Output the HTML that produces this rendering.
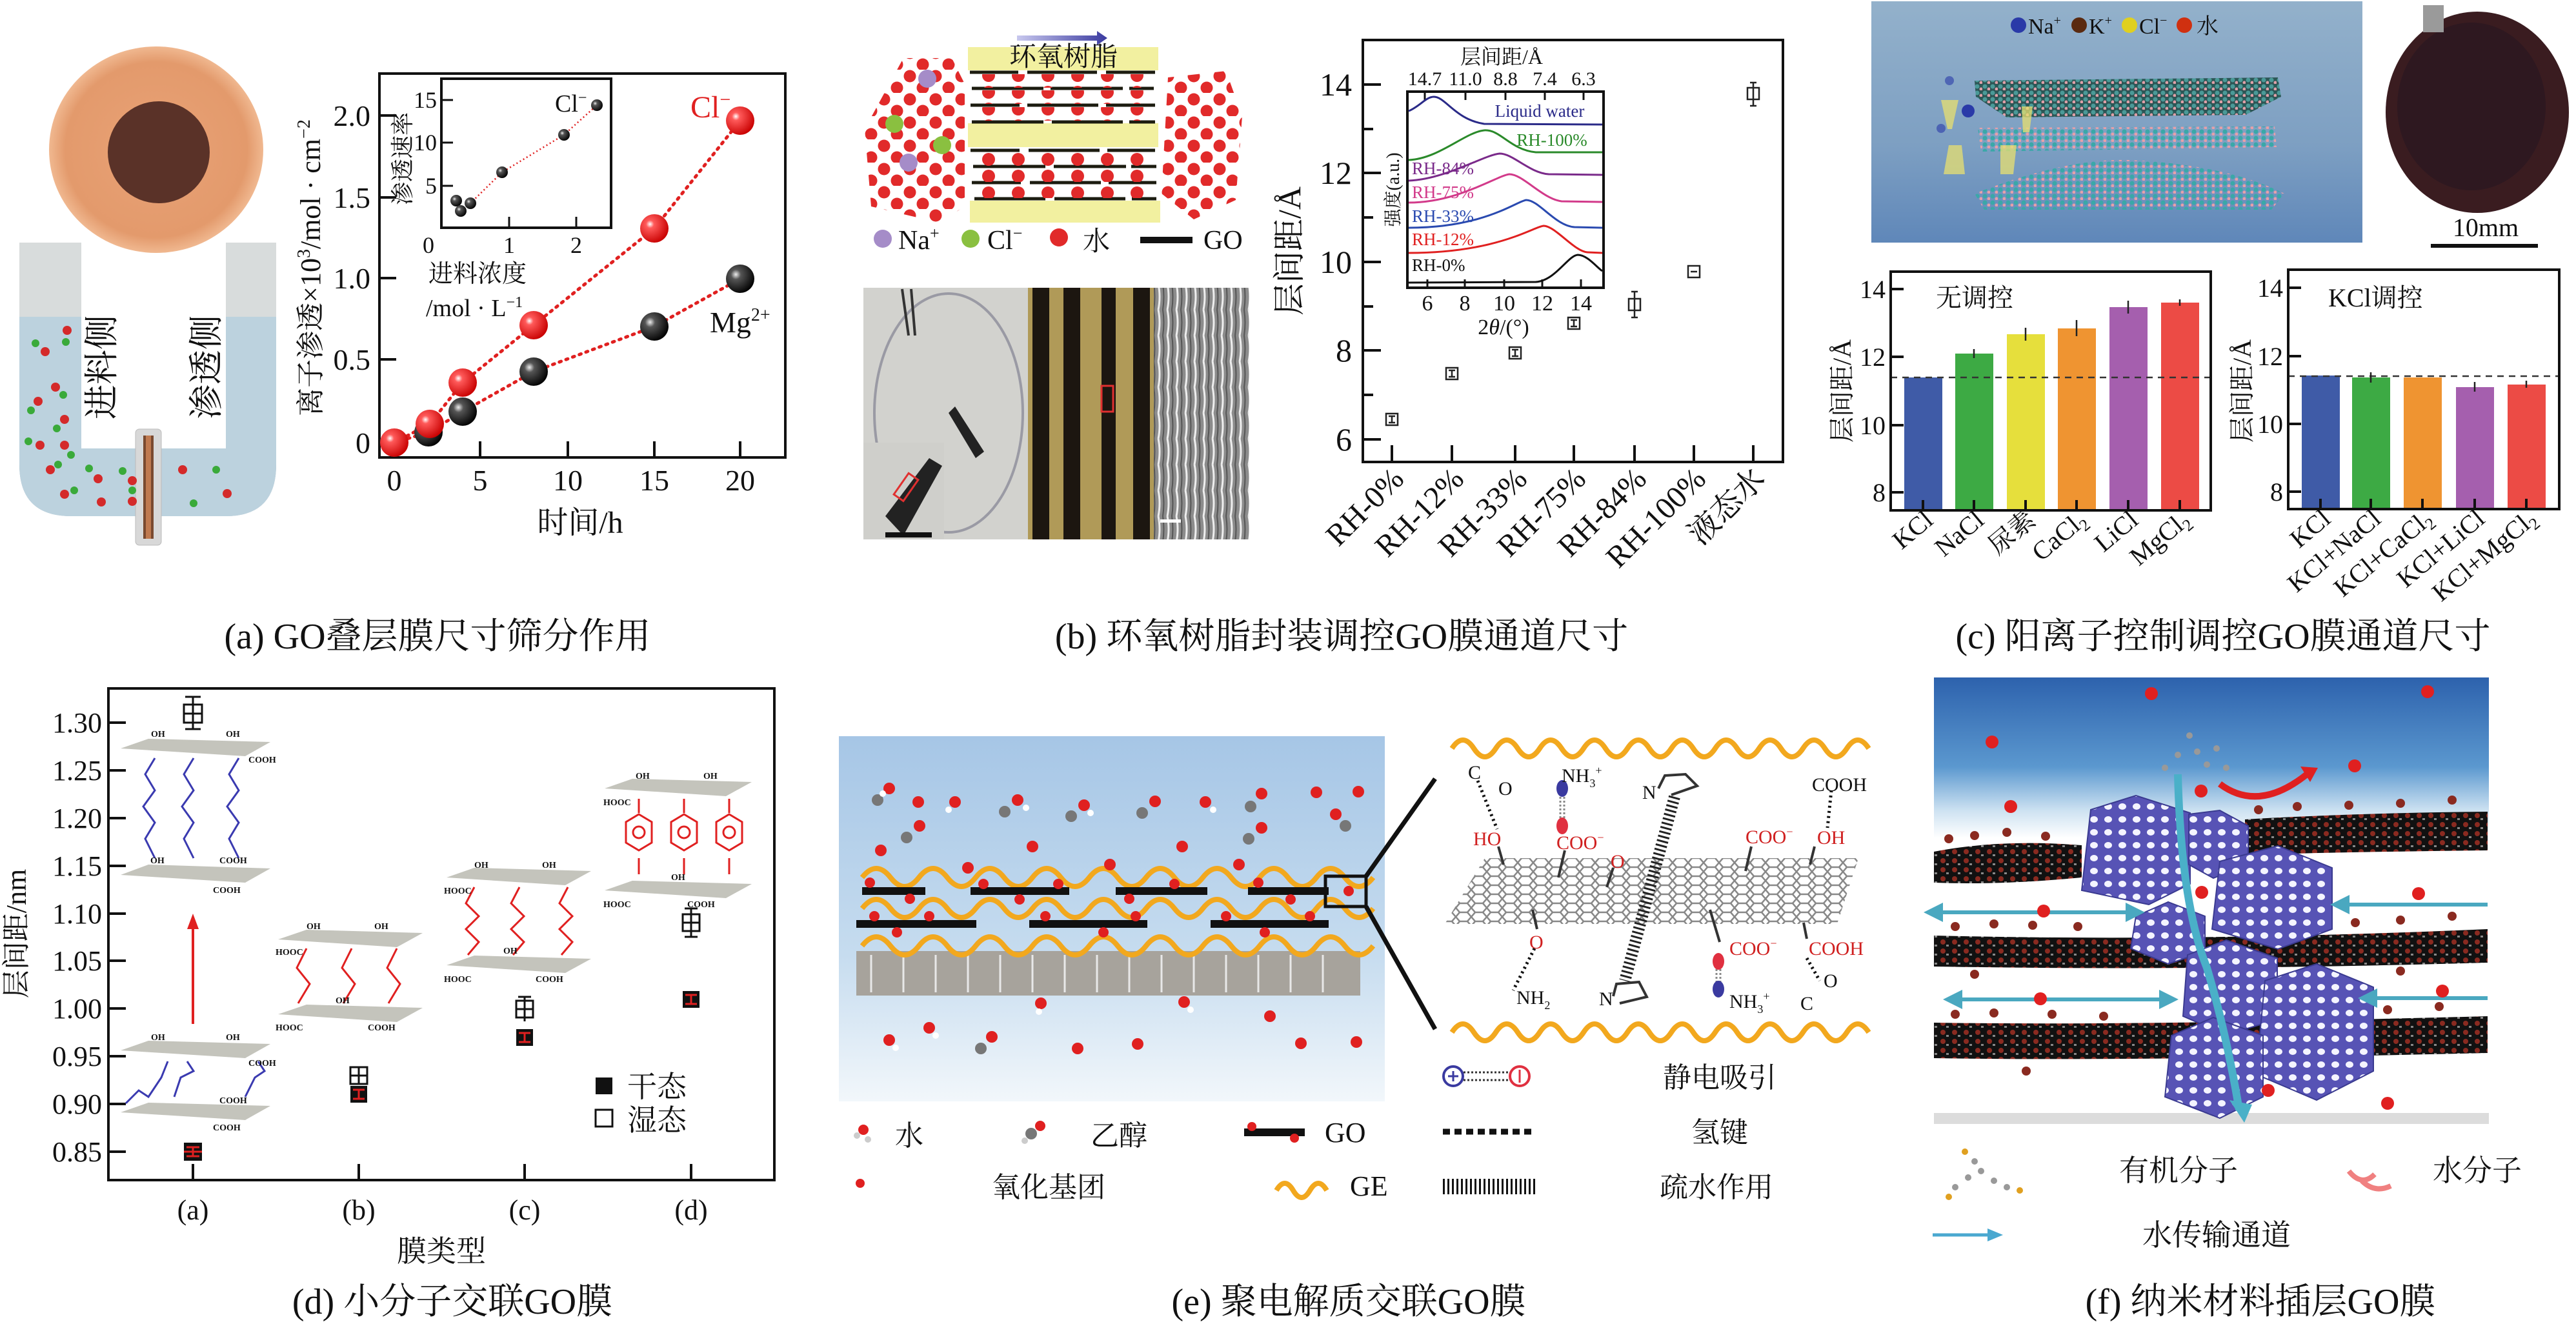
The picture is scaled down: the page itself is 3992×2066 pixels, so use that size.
<!DOCTYPE html>
<html><head><meta charset="utf-8">
<style>
html,body{margin:0;padding:0;background:#fff;}
svg{display:block;}
text{font-family:"Liberation Serif","Noto Serif CJK SC",serif;fill:#111;}
</style></head>
<body>
<svg xmlns="http://www.w3.org/2000/svg" width="3992" height="2066" viewBox="0 0 3992 2066">
<defs>
  <radialGradient id="rball" cx="0.35" cy="0.35" r="0.7"><stop offset="0" stop-color="#fff"/><stop offset="0.2" stop-color="#ff5a5a"/><stop offset="1" stop-color="#c80000"/></radialGradient>
  <radialGradient id="kball" cx="0.35" cy="0.35" r="0.7"><stop offset="0" stop-color="#eee"/><stop offset="0.25" stop-color="#555"/><stop offset="1" stop-color="#000"/></radialGradient>
  <radialGradient id="disc" cx="0.5" cy="0.5" r="0.5"><stop offset="0" stop-color="#e9a276"/><stop offset="0.85" stop-color="#e39a6c"/><stop offset="1" stop-color="#f0b890"/></radialGradient>
  <linearGradient id="tube" x1="0" y1="0" x2="1" y2="0"><stop offset="0" stop-color="#9fb3bf"/><stop offset="0.5" stop-color="#d4e1e8"/><stop offset="1" stop-color="#9fb3bf"/></linearGradient>
  <pattern id="wdots" width="40" height="36" patternUnits="userSpaceOnUse">
    <circle cx="10" cy="10" r="9.5" fill="#e12a2a"/><circle cx="30" cy="28" r="9.5" fill="#e12a2a"/>
  </pattern>
  <pattern id="rowdots" width="46" height="26" patternUnits="userSpaceOnUse">
    <circle cx="14" cy="13" r="10" fill="#e12a2a"/>
  </pattern>
  <pattern id="sem" width="14" height="40" patternUnits="userSpaceOnUse">
    <rect width="14" height="40" fill="#8c8c8c"/><path d="M3 0 Q7 20 3 40" stroke="#eee" stroke-width="3" fill="none"/><path d="M10 0 Q13 20 10 40" stroke="#555" stroke-width="2" fill="none"/>
  </pattern>
  <pattern id="hex" width="24" height="14" patternUnits="userSpaceOnUse">
    <path d="M0 7 L6 0 L18 0 L24 7 L18 14 L6 14 Z" fill="none" stroke="#888" stroke-width="2.5"/>
  </pattern>
  <pattern id="mol" width="12" height="10" patternUnits="userSpaceOnUse">
    <circle cx="4" cy="4" r="3.5" fill="#3aa8a8"/><circle cx="10" cy="8" r="2.5" fill="#e8a0a8"/>
  </pattern>
  <pattern id="mol2" width="12" height="10" patternUnits="userSpaceOnUse">
    <rect width="12" height="10" fill="#2d5656"/><circle cx="4" cy="4" r="3.5" fill="#4a9a98"/><circle cx="10" cy="8" r="2.5" fill="#e0a0a8"/>
  </pattern>
  <pattern id="holes" width="22" height="20" patternUnits="userSpaceOnUse">
    <rect width="22" height="20" fill="#5753b5"/><ellipse cx="11" cy="10" rx="6" ry="5" fill="#f4f4ff"/>
  </pattern>
  <pattern id="goband" width="18" height="14" patternUnits="userSpaceOnUse">
    <rect width="18" height="14" fill="#111"/><circle cx="5" cy="4" r="4" fill="#8a2a20"/><rect x="10" y="8" width="4" height="3" fill="#fff" opacity="0.5"/>
  </pattern>
  <linearGradient id="simbg" x1="0" y1="0" x2="0" y2="1"><stop offset="0" stop-color="#93b1cb"/><stop offset="0.6" stop-color="#7d9fc2"/><stop offset="1" stop-color="#5f87b9"/></linearGradient>
  <linearGradient id="ebg" x1="0" y1="0" x2="0" y2="1"><stop offset="0" stop-color="#a6c6e6"/><stop offset="0.6" stop-color="#c6dcef"/><stop offset="1" stop-color="#f2f7fb"/></linearGradient>
  <linearGradient id="fbg" x1="0" y1="0" x2="0" y2="1"><stop offset="0" stop-color="#2d62ad"/><stop offset="0.2" stop-color="#5b98cf"/><stop offset="0.3" stop-color="#cfe3f2"/><stop offset="0.36" stop-color="#fff"/><stop offset="1" stop-color="#fff"/></linearGradient>
  <linearGradient id="arrowg" x1="0" y1="0" x2="1" y2="0"><stop offset="0" stop-color="#c8c8ee"/><stop offset="1" stop-color="#3a3aa0"/></linearGradient>
  <marker id="cyanL" viewBox="0 0 10 10" refX="2" refY="5" markerWidth="5" markerHeight="5" orient="auto-start-reverse"><path d="M0 0 L10 5 L0 10 Z" fill="#4aa8c0"/></marker>
</defs>

<!-- ================= PANEL A ================= -->
<ellipse cx="242" cy="232" rx="166" ry="160" fill="url(#disc)"/>
<circle cx="246" cy="236" r="79" fill="#5a3228"/>
<path d="M30 376 L30 720 Q30 800 110 800 L350 800 Q428 800 428 720 L428 376 L350 376 L350 695 L126 695 L126 376 Z" fill="url(#tube)"/>
<path d="M30 491 L30 720 Q30 800 110 800 L350 800 Q428 800 428 720 L428 491 L350 491 L350 695 L126 695 L126 491 Z" fill="#bcd2de"/>
<rect x="30" y="376" width="96" height="115" fill="#d8dcdc"/>
<rect x="350" y="376" width="78" height="115" fill="#d8dcdc"/>
<rect x="210" y="665" width="40" height="180" rx="6" fill="#d8d8d8" stroke="#bbb"/>
<rect x="222" y="675" width="16" height="160" fill="#7a4a30"/>
<rect x="226" y="675" width="8" height="160" fill="#c07a50"/>
<g fill="#d42a2a">
<circle cx="104" cy="512" r="7"/><circle cx="70" cy="545" r="7"/><circle cx="86" cy="600" r="7"/><circle cx="59" cy="622" r="7"/><circle cx="100" cy="650" r="7"/><circle cx="62" cy="690" r="7"/><circle cx="100" cy="690" r="7"/><circle cx="78" cy="728" r="7"/><circle cx="100" cy="766" r="7"/><circle cx="152" cy="742" r="7"/><circle cx="157" cy="778" r="7"/><circle cx="205" cy="745" r="7"/><circle cx="205" cy="777" r="7"/><circle cx="283" cy="728" r="7"/><circle cx="352" cy="765" r="7"/>
</g>
<g fill="#3aaa3a">
<circle cx="55" cy="532" r="6"/><circle cx="102" cy="530" r="6"/><circle cx="98" cy="612" r="6"/><circle cx="48" cy="636" r="6"/><circle cx="88" cy="664" r="6"/><circle cx="44" cy="684" r="6"/><circle cx="110" cy="705" r="6"/><circle cx="90" cy="720" r="6"/><circle cx="138" cy="726" r="6"/><circle cx="115" cy="760" r="6"/><circle cx="190" cy="730" r="6"/><circle cx="205" cy="760" r="6"/><circle cx="335" cy="728" r="6"/><circle cx="300" cy="780" r="6"/>
</g>
<text transform="translate(176,650) rotate(-90)" font-size="54">进料侧</text>
<text transform="translate(338,650) rotate(-90)" font-size="54">渗透侧</text>
<!-- plot a -->
<rect x="588" y="114" width="629" height="595" fill="none" stroke="#111" stroke-width="4"/>
<g stroke="#111" stroke-width="4">
<line x1="588" y1="686" x2="614" y2="686"/><line x1="588" y1="557" x2="614" y2="557"/><line x1="588" y1="431" x2="614" y2="431"/><line x1="588" y1="306" x2="614" y2="306"/><line x1="588" y1="179" x2="614" y2="179"/>
<line x1="611" y1="709" x2="611" y2="684"/><line x1="744" y1="709" x2="744" y2="684"/><line x1="880" y1="709" x2="880" y2="684"/><line x1="1014" y1="709" x2="1014" y2="684"/><line x1="1147" y1="709" x2="1147" y2="684"/>
</g>
<g font-size="46" text-anchor="end">
<text x="574" y="702">0</text><text x="574" y="573">0.5</text><text x="574" y="447">1.0</text><text x="574" y="322">1.5</text><text x="574" y="195">2.0</text>
</g>
<g font-size="46" text-anchor="middle">
<text x="611" y="760">0</text><text x="744" y="760">5</text><text x="880" y="760">10</text><text x="1014" y="760">15</text><text x="1147" y="760">20</text>
</g>
<text x="899" y="826" font-size="48" text-anchor="middle">时间/h</text>
<text transform="translate(496,415) rotate(-90)" font-size="44" text-anchor="middle">离子渗透×10<tspan font-size="28" dy="-16">3</tspan><tspan dy="16">/mol · cm</tspan><tspan font-size="28" dy="-16">−2</tspan></text>
<polyline points="611,686 666,657 717,593 827,504 1014,354 1147,187" fill="none" stroke="#e02020" stroke-width="5" stroke-dasharray="3 8" stroke-linecap="round"/>
<polyline points="611,686 664,670 717,638 827,576 1014,506 1147,432" fill="none" stroke="#e02020" stroke-width="5" stroke-dasharray="3 8" stroke-linecap="round"/>
<g>
<circle cx="664" cy="670" r="22" fill="url(#kball)"/><circle cx="717" cy="638" r="22" fill="url(#kball)"/><circle cx="827" cy="576" r="22" fill="url(#kball)"/><circle cx="1014" cy="506" r="22" fill="url(#kball)"/><circle cx="1147" cy="432" r="22" fill="url(#kball)"/>
<circle cx="611" cy="686" r="22" fill="url(#rball)"/><circle cx="666" cy="657" r="22" fill="url(#rball)"/><circle cx="717" cy="593" r="22" fill="url(#rball)"/><circle cx="827" cy="504" r="22" fill="url(#rball)"/><circle cx="1014" cy="354" r="22" fill="url(#rball)"/><circle cx="1147" cy="187" r="22" fill="url(#rball)"/>
</g>
<text x="1070" y="182" font-size="48" style="fill:#e02020">Cl<tspan font-size="30" dy="-18">−</tspan></text>
<text x="1100" y="515" font-size="46">Mg<tspan font-size="28" dy="-18">2+</tspan></text>
<!-- inset a -->
<rect x="684" y="122" width="263" height="231" fill="#fff" stroke="#111" stroke-width="4"/>
<g stroke="#111" stroke-width="3"><line x1="684" y1="155" x2="702" y2="155"/><line x1="684" y1="221" x2="702" y2="221"/><line x1="684" y1="288" x2="702" y2="288"/><line x1="789" y1="353" x2="789" y2="336"/><line x1="893" y1="353" x2="893" y2="336"/></g>
<g font-size="36" text-anchor="end"><text x="677" y="167">15</text><text x="677" y="233">10</text><text x="677" y="300">5</text></g>
<g font-size="36" text-anchor="middle"><text x="664" y="392">0</text><text x="789" y="392">1</text><text x="893" y="392">2</text></g>
<text transform="translate(636,318) rotate(-90)" font-size="36">渗透速率</text>
<text x="860" y="173" font-size="38">Cl<tspan font-size="24" dy="-14">−</tspan></text>
<polyline points="714,327 729,315 778,267 874,209 925,163" fill="none" stroke="#e02020" stroke-width="2.5" stroke-dasharray="2 4"/>
<g><circle cx="707" cy="311" r="9" fill="url(#kball)"/><circle cx="714" cy="327" r="9" fill="url(#kball)"/><circle cx="729" cy="315" r="9" fill="url(#kball)"/><circle cx="778" cy="267" r="9" fill="url(#kball)"/><circle cx="874" cy="209" r="9" fill="url(#kball)"/><circle cx="925" cy="163" r="9" fill="url(#kball)"/></g>
<text x="664" y="437" font-size="38">进料浓度</text>
<text x="660" y="490" font-size="38">/mol · L<tspan font-size="24" dy="-14">−1</tspan></text>
<text x="678" y="1005" font-size="56" text-anchor="middle">(a) GO叠层膜尺寸筛分作用</text>

<!-- ================= PANEL B ================= -->
<path d="M1576 55 L1700 55 L1700 48 L1716 59 L1700 70 L1700 63 L1576 63 Z" fill="url(#arrowg)"/>
<rect x="1500" y="73" width="295" height="36" fill="#f2f0a0"/>
<rect x="1500" y="191" width="295" height="37" fill="#f2f0a0"/>
<rect x="1503" y="311" width="295" height="34" fill="#f2f0a0"/>
<text x="1648" y="102" font-size="42" text-anchor="middle">环氧树脂</text>
<g stroke="#1c1c10" stroke-width="5">
<line x1="1503" y1="112" x2="1578" y2="112"/><line x1="1592" y1="112" x2="1700" y2="112"/><line x1="1714" y1="112" x2="1790" y2="112"/>
<line x1="1506" y1="137" x2="1617" y2="137"/><line x1="1628" y1="137" x2="1740" y2="137"/><line x1="1750" y1="137" x2="1788" y2="137"/>
<line x1="1504" y1="163" x2="1580" y2="163"/><line x1="1592" y1="163" x2="1702" y2="163"/><line x1="1714" y1="163" x2="1790" y2="163"/>
<line x1="1506" y1="189" x2="1617" y2="189"/><line x1="1630" y1="189" x2="1740" y2="189"/><line x1="1750" y1="189" x2="1790" y2="189"/>
<line x1="1504" y1="233" x2="1580" y2="233"/><line x1="1594" y1="233" x2="1704" y2="233"/><line x1="1716" y1="233" x2="1790" y2="233"/>
<line x1="1508" y1="258" x2="1620" y2="258"/><line x1="1633" y1="258" x2="1745" y2="258"/><line x1="1753" y1="258" x2="1792" y2="258"/>
<line x1="1506" y1="283" x2="1582" y2="283"/><line x1="1596" y1="283" x2="1706" y2="283"/><line x1="1718" y1="283" x2="1792" y2="283"/>
<line x1="1510" y1="308" x2="1620" y2="308"/><line x1="1634" y1="308" x2="1744" y2="308"/><line x1="1754" y1="308" x2="1792" y2="308"/>
</g>
<rect x="1505" y="115" width="290" height="21" fill="url(#rowdots)"/>
<rect x="1518" y="140" width="275" height="21" fill="url(#rowdots)"/>
<rect x="1508" y="166" width="285" height="21" fill="url(#rowdots)"/>
<rect x="1515" y="236" width="280" height="21" fill="url(#rowdots)"/>
<rect x="1505" y="261" width="290" height="21" fill="url(#rowdots)"/>
<rect x="1518" y="286" width="275" height="21" fill="url(#rowdots)"/>
<path d="M1400 90 L1475 90 L1495 130 L1495 320 L1455 345 L1350 320 L1340 200 Z" fill="url(#wdots)"/>
<path d="M1810 120 L1900 110 L1925 180 L1915 310 L1850 340 L1800 300 Z" fill="url(#wdots)"/>
<circle cx="1437" cy="122" r="14" fill="#a58cc8"/><circle cx="1408" cy="252" r="14" fill="#a58cc8"/>
<circle cx="1386" cy="192" r="14" fill="#8ac040"/><circle cx="1460" cy="225" r="14" fill="#8ac040"/>
<circle cx="1368" cy="370" r="14" fill="#a58cc8"/><text x="1392" y="386" font-size="42">Na<tspan font-size="26" dy="-16">+</tspan></text>
<circle cx="1504" cy="370" r="14" fill="#8ac040"/><text x="1530" y="386" font-size="42">Cl<tspan font-size="26" dy="-16">−</tspan></text>
<circle cx="1641" cy="368" r="14" fill="#e12a2a"/><text x="1678" y="388" font-size="42">水</text>
<line x1="1767" y1="372" x2="1848" y2="372" stroke="#111" stroke-width="10"/><text x="1865" y="386" font-size="42">GO</text>
<!-- photos -->
<rect x="1338" y="446" width="255" height="390" fill="#d2d2ce"/>
<ellipse cx="1470" cy="640" rx="115" ry="185" fill="none" stroke="#9a9aa4" stroke-width="4"/>
<line x1="1398" y1="448" x2="1408" y2="520" stroke="#333" stroke-width="4"/><line x1="1412" y1="448" x2="1418" y2="520" stroke="#333" stroke-width="4"/>
<path d="M1470 640 L1480 630 L1525 700 L1512 710 Z" fill="#222"/>
<rect x="1338" y="686" width="125" height="150" fill="#cfcfcb"/>
<path d="M1372 800 L1440 710 L1460 722 L1400 830 Z" fill="#222"/>
<rect x="1395" y="735" width="18" height="40" fill="none" stroke="#e03030" stroke-width="3" transform="rotate(35 1404 755)"/>
<rect x="1372" y="825" width="72" height="8" fill="#111"/>
<rect x="1593" y="446" width="195" height="390" fill="#b09a58"/>
<g fill="#1c1610"><rect x="1600" y="446" width="26" height="390"/><rect x="1648" y="446" width="26" height="390"/><rect x="1707" y="446" width="22" height="390"/><rect x="1756" y="446" width="26" height="390"/></g>
<rect x="1707" y="598" width="18" height="40" fill="none" stroke="#e03030" stroke-width="3"/>
<rect x="1788" y="446" width="148" height="390" fill="url(#sem)"/>
<rect x="1798" y="805" width="32" height="5" fill="#fff"/>
<!-- plot b -->
<rect x="2112" y="62" width="651" height="654" fill="none" stroke="#111" stroke-width="4"/>
<g stroke="#111" stroke-width="4">
<line x1="2112" y1="131" x2="2140" y2="131"/><line x1="2112" y1="200" x2="2128" y2="200"/><line x1="2112" y1="268" x2="2140" y2="268"/><line x1="2112" y1="337" x2="2128" y2="337"/><line x1="2112" y1="406" x2="2140" y2="406"/><line x1="2112" y1="475" x2="2128" y2="475"/><line x1="2112" y1="543" x2="2140" y2="543"/><line x1="2112" y1="612" x2="2128" y2="612"/><line x1="2112" y1="681" x2="2140" y2="681"/>
<line x1="2157" y1="716" x2="2157" y2="690"/><line x1="2250" y1="716" x2="2250" y2="690"/><line x1="2348" y1="716" x2="2348" y2="690"/><line x1="2439" y1="716" x2="2439" y2="690"/><line x1="2533" y1="716" x2="2533" y2="690"/><line x1="2625" y1="716" x2="2625" y2="690"/><line x1="2717" y1="716" x2="2717" y2="690"/>
</g>
<g font-size="50" text-anchor="end"><text x="2095" y="148">14</text><text x="2095" y="285">12</text><text x="2095" y="423">10</text><text x="2095" y="560">8</text><text x="2095" y="698">6</text></g>
<text transform="translate(2015,389) rotate(-90)" font-size="50" text-anchor="middle">层间距/Å</text>
<g font-size="48" text-anchor="end">
<text transform="translate(2178,745) rotate(-45)">RH-0%</text>
<text transform="translate(2271,745) rotate(-45)">RH-12%</text>
<text transform="translate(2369,745) rotate(-45)">RH-33%</text>
<text transform="translate(2460,745) rotate(-45)">RH-75%</text>
<text transform="translate(2554,745) rotate(-45)">RH-84%</text>
<text transform="translate(2646,745) rotate(-45)">RH-100%</text>
<text transform="translate(2738,745) rotate(-45)">液态水</text>
</g>
<g fill="none" stroke="#222" stroke-width="2.5">
<rect x="2148" y="641" width="18" height="18"/><line x1="2157" y1="645" x2="2157" y2="655"/><line x1="2152" y1="645" x2="2162" y2="645"/><line x1="2152" y1="655" x2="2162" y2="655"/>
<rect x="2241" y="570" width="18" height="18"/><line x1="2250" y1="574" x2="2250" y2="584"/><line x1="2245" y1="574" x2="2255" y2="574"/><line x1="2245" y1="584" x2="2255" y2="584"/>
<rect x="2339" y="538" width="18" height="18"/><line x1="2348" y1="542" x2="2348" y2="552"/><line x1="2343" y1="542" x2="2353" y2="542"/><line x1="2343" y1="552" x2="2353" y2="552"/>
<rect x="2430" y="492" width="18" height="18"/><line x1="2439" y1="496" x2="2439" y2="506"/><line x1="2434" y1="496" x2="2444" y2="496"/><line x1="2434" y1="506" x2="2444" y2="506"/>
<rect x="2524" y="463" width="18" height="18"/><line x1="2533" y1="452" x2="2533" y2="492"/><line x1="2528" y1="452" x2="2538" y2="452"/><line x1="2528" y1="492" x2="2538" y2="492"/>
<rect x="2616" y="412" width="18" height="18"/><line x1="2620" y1="421" x2="2630" y2="421"/>
<rect x="2708" y="136" width="18" height="18"/><line x1="2717" y1="128" x2="2717" y2="164"/><line x1="2712" y1="128" x2="2722" y2="128"/><line x1="2712" y1="164" x2="2722" y2="164"/>
</g>
<!-- inset b -->
<rect x="2181" y="142" width="304" height="304" fill="#fff" stroke="#111" stroke-width="4"/>
<g stroke="#111" stroke-width="3">
<line x1="2208" y1="142" x2="2208" y2="155"/><line x1="2271" y1="142" x2="2271" y2="155"/><line x1="2333" y1="142" x2="2333" y2="155"/><line x1="2394" y1="142" x2="2394" y2="155"/><line x1="2454" y1="142" x2="2454" y2="155"/>
<line x1="2212" y1="446" x2="2212" y2="433"/><line x1="2270" y1="446" x2="2270" y2="433"/><line x1="2331" y1="446" x2="2331" y2="433"/><line x1="2390" y1="446" x2="2390" y2="433"/><line x1="2450" y1="446" x2="2450" y2="433"/>
</g>
<text x="2327" y="99" font-size="32" text-anchor="middle">层间距/Å</text>
<g font-size="30" text-anchor="middle"><text x="2208" y="132">14.7</text><text x="2271" y="132">11.0</text><text x="2333" y="132">8.8</text><text x="2394" y="132">7.4</text><text x="2454" y="132">6.3</text></g>
<g font-size="34" text-anchor="middle"><text x="2212" y="481">6</text><text x="2270" y="481">8</text><text x="2331" y="481">10</text><text x="2390" y="481">12</text><text x="2450" y="481">14</text></g>
<text x="2330" y="518" font-size="34" text-anchor="middle">2<tspan font-style="italic">θ</tspan>/(°)</text>
<text transform="translate(2168,294) rotate(-90)" font-size="28" text-anchor="middle">强度(a.u.)</text>
<g fill="none" stroke-width="3">
<path d="M2183 172 C2200 165 2210 150 2222 150 C2240 150 2255 185 2300 192 L2483 193" stroke="#2a2a88"/>
<path d="M2183 248 C2230 246 2270 205 2300 202 C2325 200 2340 232 2380 236 L2483 236" stroke="#2a8a2a"/>
<path d="M2183 280 C2240 278 2300 240 2324 238 C2345 238 2370 268 2400 270 L2483 271" stroke="#7a2a8a"/>
<path d="M2183 314 C2260 314 2320 272 2339 270 C2360 270 2390 308 2420 312 L2483 313" stroke="#d23a8a"/>
<path d="M2183 353 C2300 353 2350 312 2365 310 C2385 310 2410 350 2440 352 L2483 353" stroke="#2a4ab0"/>
<path d="M2183 392 C2320 392 2375 352 2392 350 C2410 350 2440 390 2460 391 L2483 392" stroke="#e02020"/>
<path d="M2183 438 L2380 437 C2410 435 2430 396 2445 395 C2460 395 2475 415 2483 420" stroke="#111"/>
</g>
<text x="2386" y="181" font-size="27" text-anchor="middle" style="fill:#2a2a88">Liquid water</text>
<text x="2405" y="226" font-size="27" text-anchor="middle" style="fill:#2a8a2a">RH-100%</text>
<text x="2188" y="270" font-size="27" style="fill:#7a2a8a">RH-84%</text>
<text x="2188" y="307" font-size="27" style="fill:#d23a8a">RH-75%</text>
<text x="2188" y="344" font-size="27" style="fill:#2a4ab0">RH-33%</text>
<text x="2188" y="380" font-size="27" style="fill:#e02020">RH-12%</text>
<text x="2188" y="420" font-size="27">RH-0%</text>
<text x="2079" y="1005" font-size="56" text-anchor="middle">(b) 环氧树脂封装调控GO膜通道尺寸</text>

<!-- ================= PANEL C ================= -->
<rect x="2900" y="2" width="761" height="374" fill="url(#simbg)"/>
<circle cx="3128" cy="39" r="12" fill="#2a3aa8"/><text x="3143" y="52" font-size="34">Na<tspan font-size="20" dy="-14">+</tspan></text>
<circle cx="3222" cy="39" r="12" fill="#5a2a10"/><text x="3237" y="52" font-size="34">K<tspan font-size="20" dy="-14">+</tspan></text>
<circle cx="3300" cy="39" r="12" fill="#e0d020"/><text x="3315" y="52" font-size="34">Cl<tspan font-size="20" dy="-14">−</tspan></text>
<circle cx="3385" cy="39" r="12" fill="#d03010"/><text x="3404" y="52" font-size="34">水</text>
<path d="M3060 125 L3530 120 L3535 150 L3480 178 L3110 182 L3062 150 Z" fill="url(#mol2)"/>
<path d="M3065 198 L3525 196 L3528 228 L3070 235 Z" fill="url(#mol)"/>
<path d="M3060 300 Q3200 245 3300 248 Q3450 255 3540 300 L3520 325 L3075 325 Z" fill="url(#mol)"/>
<g fill="#e8e070" opacity="0.75"><path d="M3008 155 L3035 155 L3025 200 L3018 200 Z"/><path d="M3133 165 L3150 165 L3145 205 L3135 205 Z"/><path d="M3020 225 L3040 225 L3045 270 L3012 270 Z"/><path d="M3100 225 L3125 225 L3120 270 L3100 270 Z"/></g>
<g fill="#2a3aa8"><circle cx="3050" cy="172" r="10"/><circle cx="3021" cy="125" r="7" opacity="0.6"/><circle cx="3008" cy="199" r="7" opacity="0.6"/></g>
<ellipse cx="3839" cy="174" rx="142" ry="156" fill="#3a1c20"/>
<ellipse cx="3830" cy="165" rx="115" ry="130" fill="#2e1820"/>
<rect x="3755" y="8" width="32" height="42" fill="#9a9a9a"/>
<text x="3852" y="366" font-size="40" text-anchor="middle">10mm</text>
<rect x="3767" y="378" width="166" height="6" fill="#111"/>
<!-- bar chart 1 -->
<g>
<rect x="2951" y="585" width="59" height="206" fill="#3f5ba7"/>
<rect x="3030" y="548" width="59" height="243" fill="#3daa44"/>
<rect x="3110" y="518" width="59" height="273" fill="#e6df3c"/>
<rect x="3189" y="509" width="59" height="282" fill="#ef9431"/>
<rect x="3269" y="476" width="59" height="315" fill="#a55fae"/>
<rect x="3349" y="469" width="59" height="322" fill="#ec4b45"/>
</g>
<line x1="2930" y1="585" x2="3426" y2="585" stroke="#333" stroke-width="2.5" stroke-dasharray="10 8"/>
<g stroke="#222" stroke-width="2.5"><line x1="3059" y1="541" x2="3059" y2="555"/><line x1="3139" y1="508" x2="3139" y2="528"/><line x1="3218" y1="496" x2="3218" y2="521"/><line x1="3298" y1="466" x2="3298" y2="486"/><line x1="3378" y1="464" x2="3378" y2="474"/></g>
<rect x="2930" y="421" width="496" height="370" fill="none" stroke="#111" stroke-width="4"/>
<g stroke="#111" stroke-width="4"><line x1="2930" y1="448" x2="2950" y2="448"/><line x1="2930" y1="553" x2="2950" y2="553"/><line x1="2930" y1="659" x2="2950" y2="659"/><line x1="2930" y1="763" x2="2950" y2="763"/>
<line x1="2980" y1="791" x2="2980" y2="775"/><line x1="3059" y1="791" x2="3059" y2="775"/><line x1="3139" y1="791" x2="3139" y2="775"/><line x1="3218" y1="791" x2="3218" y2="775"/><line x1="3298" y1="791" x2="3298" y2="775"/><line x1="3378" y1="791" x2="3378" y2="775"/></g>
<g font-size="40" text-anchor="end"><text x="2922" y="462">14</text><text x="2922" y="567">12</text><text x="2922" y="673">10</text><text x="2922" y="777">8</text></g>
<text transform="translate(2868,606) rotate(-90)" font-size="40" text-anchor="middle">层间距/Å</text>
<text x="3000" y="475" font-size="40">无调控</text>
<g font-size="40" text-anchor="end">
<text transform="translate(2998,810) rotate(-40)">KCl</text>
<text transform="translate(3077,810) rotate(-40)">NaCl</text>
<text transform="translate(3157,810) rotate(-40)">尿素</text>
<text transform="translate(3236,810) rotate(-40)">CaCl<tspan font-size="26" dy="8">2</tspan></text>
<text transform="translate(3316,810) rotate(-40)">LiCl</text>
<text transform="translate(3396,810) rotate(-40)">MgCl<tspan font-size="26" dy="8">2</tspan></text>
</g>
<!-- bar chart 2 -->
<g>
<rect x="3567" y="582" width="59" height="207" fill="#3f5ba7"/>
<rect x="3645" y="585" width="59" height="204" fill="#3daa44"/>
<rect x="3725" y="585" width="59" height="204" fill="#ef9431"/>
<rect x="3806" y="600" width="59" height="189" fill="#a55fae"/>
<rect x="3886" y="596" width="59" height="193" fill="#ec4b45"/>
</g>
<line x1="3546" y1="583" x2="3966" y2="583" stroke="#333" stroke-width="2.5" stroke-dasharray="10 8"/>
<g stroke="#222" stroke-width="2.5"><line x1="3674" y1="577" x2="3674" y2="593"/><line x1="3835" y1="592" x2="3835" y2="607"/><line x1="3915" y1="590" x2="3915" y2="601"/></g>
<rect x="3546" y="418" width="420" height="371" fill="none" stroke="#111" stroke-width="4"/>
<g stroke="#111" stroke-width="4"><line x1="3546" y1="446" x2="3566" y2="446"/><line x1="3546" y1="552" x2="3566" y2="552"/><line x1="3546" y1="657" x2="3566" y2="657"/><line x1="3546" y1="762" x2="3566" y2="762"/>
<line x1="3596" y1="789" x2="3596" y2="773"/><line x1="3674" y1="789" x2="3674" y2="773"/><line x1="3754" y1="789" x2="3754" y2="773"/><line x1="3835" y1="789" x2="3835" y2="773"/><line x1="3915" y1="789" x2="3915" y2="773"/></g>
<g font-size="40" text-anchor="end"><text x="3538" y="460">14</text><text x="3538" y="566">12</text><text x="3538" y="671">10</text><text x="3538" y="776">8</text></g>
<text transform="translate(3488,606) rotate(-90)" font-size="40" text-anchor="middle">层间距/Å</text>
<text x="3608" y="475" font-size="40">KCl调控</text>
<g font-size="40" text-anchor="end">
<text transform="translate(3614,808) rotate(-40)">KCl</text>
<text transform="translate(3692,808) rotate(-40)">KCl+NaCl</text>
<text transform="translate(3772,808) rotate(-40)">KCl+CaCl<tspan font-size="26" dy="8">2</tspan></text>
<text transform="translate(3853,808) rotate(-40)">KCl+LiCl</text>
<text transform="translate(3933,808) rotate(-40)">KCl+MgCl<tspan font-size="26" dy="8">2</tspan></text>
</g>
<text x="3445" y="1005" font-size="56" text-anchor="middle">(c) 阳离子控制调控GO膜通道尺寸</text>

<!-- ================= PANEL D ================= -->
<rect x="168" y="1067" width="1032" height="762" fill="none" stroke="#111" stroke-width="4"/>
<g stroke="#111" stroke-width="4">
<line x1="168" y1="1120" x2="195" y2="1120"/><line x1="168" y1="1194" x2="195" y2="1194"/><line x1="168" y1="1268" x2="195" y2="1268"/><line x1="168" y1="1342" x2="195" y2="1342"/><line x1="168" y1="1416" x2="195" y2="1416"/><line x1="168" y1="1489" x2="195" y2="1489"/><line x1="168" y1="1563" x2="195" y2="1563"/><line x1="168" y1="1637" x2="195" y2="1637"/><line x1="168" y1="1711" x2="195" y2="1711"/><line x1="168" y1="1785" x2="195" y2="1785"/>
<line x1="299" y1="1829" x2="299" y2="1804"/><line x1="556" y1="1829" x2="556" y2="1804"/><line x1="813" y1="1829" x2="813" y2="1804"/><line x1="1071" y1="1829" x2="1071" y2="1804"/>
</g>
<g font-size="44" text-anchor="end"><text x="158" y="1135">1.30</text><text x="158" y="1209">1.25</text><text x="158" y="1283">1.20</text><text x="158" y="1357">1.15</text><text x="158" y="1431">1.10</text><text x="158" y="1504">1.05</text><text x="158" y="1578">1.00</text><text x="158" y="1652">0.95</text><text x="158" y="1726">0.90</text><text x="158" y="1800">0.85</text></g>
<text transform="translate(40,1447) rotate(-90)" font-size="44" text-anchor="middle">层间距/nm</text>
<g font-size="44" text-anchor="middle"><text x="299" y="1890">(a)</text><text x="556" y="1890">(b)</text><text x="813" y="1890">(c)</text><text x="1071" y="1890">(d)</text></g>
<text x="684" y="1955" font-size="46" text-anchor="middle">膜类型</text>
<g fill="#c4c4bc">
<path d="M187 1160 L230 1145 L419 1150 L380 1172 Z"/><path d="M187 1356 L230 1340 L419 1346 L380 1368 Z"/>
<path d="M187 1628 L230 1613 L419 1618 L380 1640 Z"/><path d="M187 1724 L230 1709 L419 1714 L380 1736 Z"/>
<path d="M431 1456 L475 1441 L655 1446 L615 1468 Z"/><path d="M431 1572 L475 1557 L655 1562 L615 1584 Z"/>
<path d="M692 1360 L735 1345 L916 1350 L876 1372 Z"/><path d="M692 1496 L735 1481 L916 1486 L876 1508 Z"/>
<path d="M937 1222 L980 1207 L1165 1212 L1125 1234 Z"/><path d="M937 1380 L980 1365 L1165 1370 L1125 1392 Z"/>
</g>
<g fill="none" stroke="#3a3ab0" stroke-width="3">
<polyline points="240,1175 225,1200 240,1225 222,1250 240,1275 225,1300 240,1330"/>
<polyline points="300,1175 285,1200 300,1225 282,1250 300,1275 285,1300 300,1330"/>
<polyline points="370,1175 355,1200 370,1225 352,1250 370,1275 355,1300 370,1330"/>
<polyline points="195,1710 215,1690 230,1700 250,1670 260,1645"/>
<polyline points="270,1700 280,1670 300,1660 290,1645"/>
<polyline points="380,1700 395,1670 410,1660 400,1645"/>
</g>
<g fill="none" stroke="#e02020" stroke-width="3">
<polyline points="475,1470 460,1500 480,1525 462,1555"/><polyline points="545,1470 530,1500 550,1525 532,1555"/><polyline points="615,1470 600,1500 620,1525 602,1555"/>
<polyline points="735,1375 722,1400 742,1420 722,1440 742,1460 725,1480"/><polyline points="805,1375 792,1400 812,1420 792,1440 812,1460 795,1480"/><polyline points="880,1375 867,1400 887,1420 867,1440 887,1460 870,1480"/>
<polyline points="990,1238 990,1260"/><polyline points="1060,1238 1060,1260"/><polyline points="1130,1238 1130,1260"/>
<polyline points="990,1330 990,1355"/><polyline points="1060,1330 1060,1355"/><polyline points="1130,1330 1130,1355"/>
<path d="M990 1262 L1010 1274 L1010 1306 L990 1318 L970 1306 L970 1274 Z"/><circle cx="990" cy="1290" r="9"/>
<path d="M1060 1262 L1080 1274 L1080 1306 L1060 1318 L1040 1306 L1040 1274 Z"/><circle cx="1060" cy="1290" r="9"/>
<path d="M1130 1262 L1150 1274 L1150 1306 L1130 1318 L1110 1306 L1110 1274 Z"/><circle cx="1130" cy="1290" r="9"/>
</g>
<g font-size="14" font-weight="bold">
<text x="234" y="1142">OH</text><text x="350" y="1142">OH</text><text x="385" y="1182">COOH</text><text x="233" y="1338">OH</text><text x="340" y="1338">COOH</text><text x="330" y="1384">COOH</text>
<text x="234" y="1612">OH</text><text x="350" y="1612">OH</text><text x="385" y="1652">COOH</text><text x="340" y="1710">COOH</text><text x="330" y="1752">COOH</text>
<text x="475" y="1440">OH</text><text x="580" y="1440">OH</text><text x="427" y="1480">HOOC</text><text x="520" y="1555">OH</text><text x="427" y="1597">HOOC</text><text x="570" y="1597">COOH</text>
<text x="735" y="1345">OH</text><text x="840" y="1345">OH</text><text x="688" y="1385">HOOC</text><text x="780" y="1478">OH</text><text x="688" y="1522">HOOC</text><text x="830" y="1522">COOH</text>
<text x="985" y="1207">OH</text><text x="1090" y="1207">OH</text><text x="935" y="1248">HOOC</text><text x="1040" y="1364">OH</text><text x="935" y="1406">HOOC</text><text x="1065" y="1406">COOH</text>
</g>
<line x1="299" y1="1587" x2="299" y2="1430" stroke="#e02020" stroke-width="4"/>
<path d="M299 1416 L308 1440 L290 1440 Z" fill="#e02020"/>
<g fill="none" stroke="#111" stroke-width="3">
<rect x="285" y="1092" width="28" height="28"/><line x1="299" y1="1080" x2="299" y2="1130"/><line x1="287" y1="1080" x2="311" y2="1080"/><line x1="287" y1="1130" x2="311" y2="1130"/><line x1="285" y1="1106" x2="313" y2="1106"/>
<rect x="543" y="1654" width="26" height="26"/><line x1="543" y1="1667" x2="569" y2="1667"/><line x1="556" y1="1654" x2="556" y2="1680"/>
<rect x="800" y="1551" width="26" height="26"/><line x1="800" y1="1564" x2="826" y2="1564"/><line x1="813" y1="1545" x2="813" y2="1583"/><line x1="803" y1="1545" x2="823" y2="1545"/>
<rect x="1058" y="1417" width="26" height="26"/><line x1="1058" y1="1430" x2="1084" y2="1430"/><line x1="1071" y1="1408" x2="1071" y2="1452"/><line x1="1061" y1="1408" x2="1081" y2="1408"/><line x1="1061" y1="1452" x2="1081" y2="1452"/>
</g>
<g>
<rect x="285" y="1771" width="28" height="28" fill="#111"/><rect x="543" y="1683" width="26" height="26" fill="#111"/><rect x="800" y="1595" width="26" height="26" fill="#111"/><rect x="1058" y="1536" width="26" height="26" fill="#111"/>
</g>
<g stroke="#e02020" stroke-width="3" fill="none">
<path d="M289 1778 L309 1778 M299 1778 L299 1792 M289 1792 L309 1792 M285 1785 L313 1785"/>
<path d="M547 1689 L565 1689 M556 1689 L556 1703 M547 1703 L565 1703"/>
<path d="M804 1601 L822 1601 M813 1601 L813 1615 M804 1615 L822 1615"/>
<path d="M1062 1542 L1080 1542 M1071 1542 L1071 1556 M1062 1556 L1080 1556"/>
</g>
<rect x="923" y="1670" width="26" height="26" fill="#111"/>
<rect x="923" y="1720" width="26" height="26" fill="none" stroke="#111" stroke-width="3"/>
<text x="972" y="1700" font-size="46">干态</text>
<text x="972" y="1752" font-size="46">湿态</text>
<text x="701" y="2036" font-size="56" text-anchor="middle">(d) 小分子交联GO膜</text>

<!-- ================= PANEL E ================= -->
<rect x="1300" y="1141" width="846" height="566" fill="url(#ebg)"/>
<rect x="1327" y="1474" width="781" height="69" fill="#a7a39c"/>
<g stroke="#e8e8e8" stroke-width="3"><line x1="1350" y1="1480" x2="1350" y2="1538"/><line x1="1400" y1="1480" x2="1400" y2="1538"/><line x1="1450" y1="1480" x2="1450" y2="1538"/><line x1="1500" y1="1480" x2="1500" y2="1538"/><line x1="1550" y1="1480" x2="1550" y2="1538"/><line x1="1600" y1="1480" x2="1600" y2="1538"/><line x1="1650" y1="1480" x2="1650" y2="1538"/><line x1="1700" y1="1480" x2="1700" y2="1538"/><line x1="1750" y1="1480" x2="1750" y2="1538"/><line x1="1800" y1="1480" x2="1800" y2="1538"/><line x1="1850" y1="1480" x2="1850" y2="1538"/><line x1="1900" y1="1480" x2="1900" y2="1538"/><line x1="1950" y1="1480" x2="1950" y2="1538"/><line x1="2000" y1="1480" x2="2000" y2="1538"/><line x1="2050" y1="1480" x2="2050" y2="1538"/></g>
<g fill="none" stroke="#f2a81e" stroke-width="8">
<path d="M1336 1360 q22 -28 44 0 t44 0 t44 0 t44 0 t44 0 t44 0 t44 0 t44 0 t44 0 t44 0 t44 0 t44 0 t44 0 t44 0 t44 0 t44 0 t44 0 t44 0"/>
<path d="M1336 1408 q22 -28 44 0 t44 0 t44 0 t44 0 t44 0 t44 0 t44 0 t44 0 t44 0 t44 0 t44 0 t44 0 t44 0 t44 0 t44 0 t44 0 t44 0 t44 0"/>
<path d="M1336 1466 q22 -28 44 0 t44 0 t44 0 t44 0 t44 0 t44 0 t44 0 t44 0 t44 0 t44 0 t44 0 t44 0 t44 0 t44 0 t44 0 t44 0 t44 0 t44 0"/>
</g>
<g stroke="#111" stroke-width="12">
<line x1="1336" y1="1381" x2="1434" y2="1381"/><line x1="1504" y1="1381" x2="1657" y2="1381"/><line x1="1729" y1="1381" x2="1871" y2="1381"/><line x1="1934" y1="1381" x2="2059" y2="1381"/>
<line x1="1327" y1="1432" x2="1513" y2="1432"/><line x1="1595" y1="1432" x2="1778" y2="1432"/><line x1="1876" y1="1432" x2="2059" y2="1432"/>
</g>
<g fill="#e02020">
<circle cx="1348" cy="1368" r="8"/><circle cx="1410" cy="1393" r="8"/><circle cx="1524" cy="1370" r="8"/><circle cx="1580" cy="1394" r="8"/><circle cx="1640" cy="1370" r="8"/><circle cx="1750" cy="1393" r="8"/><circle cx="1820" cy="1370" r="8"/><circle cx="1950" cy="1368" r="8"/><circle cx="2000" cy="1394" r="8"/><circle cx="2090" cy="1381" r="8"/>
<circle cx="1355" cy="1420" r="8"/><circle cx="1390" cy="1445" r="8"/><circle cx="1440" cy="1420" r="8"/><circle cx="1620" cy="1420" r="8"/><circle cx="1710" cy="1445" r="8"/><circle cx="1760" cy="1420" r="8"/><circle cx="1900" cy="1420" r="8"/><circle cx="1960" cy="1445" r="8"/><circle cx="2030" cy="1420" r="8"/>
</g>
<g>
<g fill="#e02020">
<circle cx="1378" cy="1222" r="9"/><circle cx="1480" cy="1243" r="9"/><circle cx="1577" cy="1240" r="9"/><circle cx="1680" cy="1248" r="9"/><circle cx="1790" cy="1242" r="9"/><circle cx="1868" cy="1243" r="9"/><circle cx="1955" cy="1230" r="9"/><circle cx="1423" cy="1243" r="9"/><circle cx="2040" cy="1228" r="9"/><circle cx="2105" cy="1227" r="9"/><circle cx="1425" cy="1280" r="9"/><circle cx="1955" cy="1283" r="9"/><circle cx="2070" cy="1262" r="9"/>
<circle cx="1365" cy="1318" r="9"/><circle cx="1600" cy="1312" r="9"/><circle cx="1832" cy="1312" r="9"/><circle cx="1500" cy="1345" r="9"/><circle cx="1720" cy="1340" r="9"/><circle cx="1920" cy="1340" r="9"/>
<circle cx="1613" cy="1555" r="9"/><circle cx="1835" cy="1553" r="9"/><circle cx="1968" cy="1575" r="9"/><circle cx="1378" cy="1612" r="9"/><circle cx="1440" cy="1593" r="9"/><circle cx="1537" cy="1607" r="9"/><circle cx="1670" cy="1625" r="9"/><circle cx="1763" cy="1618" r="9"/><circle cx="2016" cy="1617" r="9"/><circle cx="2102" cy="1615" r="9"/>
</g>
<g fill="#777">
<circle cx="1360" cy="1240" r="9"/><circle cx="1557" cy="1258" r="9"/><circle cx="1660" cy="1265" r="9"/><circle cx="1770" cy="1260" r="9"/><circle cx="1938" cy="1250" r="9"/><circle cx="1405" cy="1298" r="9"/><circle cx="1935" cy="1300" r="9"/><circle cx="2085" cy="1280" r="9"/><circle cx="1520" cy="1625" r="9"/>
</g>
<g fill="#fff">
<circle cx="1368" cy="1230" r="5"/><circle cx="1470" cy="1255" r="5"/><circle cx="1590" cy="1252" r="5"/><circle cx="1690" cy="1260" r="5"/><circle cx="1880" cy="1255" r="5"/><circle cx="1610" cy="1568" r="5"/><circle cx="1845" cy="1565" r="5"/><circle cx="1450" cy="1605" r="5"/><circle cx="1388" cy="1624" r="5"/>
</g>
</g>
<rect x="2054" y="1358" width="63" height="47" fill="none" stroke="#111" stroke-width="5"/>
<line x1="2117" y1="1358" x2="2224" y2="1207" stroke="#111" stroke-width="7"/>
<line x1="2117" y1="1405" x2="2224" y2="1595" stroke="#111" stroke-width="7"/>
<path d="M2301 1330 L2880 1330 L2847 1432 L2239 1432 Z" fill="url(#hex)"/>
<g fill="none" stroke="#f2a81e" stroke-width="8">
<path d="M2250 1160 q17 -26 34 0 t34 0 t34 0 t34 0 t34 0 t34 0 t34 0 t34 0 t34 0 t34 0 t34 0 t34 0 t34 0 t34 0 t34 0 t34 0 t34 0 t34 0 t34 0"/>
<path d="M2250 1600 q17 -26 34 0 t34 0 t34 0 t34 0 t34 0 t34 0 t34 0 t34 0 t34 0 t34 0 t34 0 t34 0 t34 0 t34 0 t34 0 t34 0 t34 0 t34 0 t34 0"/>
</g>
<g fill="none" stroke="#333" stroke-width="4">
<line x1="2322" y1="1312" x2="2330" y2="1340"/><line x1="2425" y1="1318" x2="2415" y2="1360"/><line x1="2500" y1="1345" x2="2490" y2="1375"/><line x1="2714" y1="1312" x2="2705" y2="1350"/><line x1="2812" y1="1312" x2="2805" y2="1340"/>
<line x1="2375" y1="1410" x2="2382" y2="1440"/><line x1="2650" y1="1410" x2="2665" y2="1460"/><line x1="2795" y1="1430" x2="2800" y2="1455"/>
<path d="M2570 1222 L2580 1202 L2612 1200 L2630 1218 L2590 1232"/>
<path d="M2500 1544 L2505 1525 L2540 1522 L2552 1545 L2510 1555"/>
</g>
<line x1="2595" y1="1235" x2="2518" y2="1520" stroke="#222" stroke-width="18" stroke-dasharray="3 4"/>
<g stroke="#111" stroke-width="5" stroke-dasharray="3 5" fill="none">
<line x1="2290" y1="1210" x2="2320" y2="1285"/><line x1="2838" y1="1225" x2="2832" y2="1283"/><line x1="2378" y1="1470" x2="2345" y2="1535"/><line x1="2800" y1="1485" x2="2820" y2="1520"/>
</g>
<g stroke="#888" stroke-width="3" stroke-dasharray="3 3"><line x1="2418" y1="1235" x2="2418" y2="1268"/><line x1="2424" y1="1235" x2="2424" y2="1268"/><line x1="2660" y1="1502" x2="2660" y2="1522"/><line x1="2666" y1="1502" x2="2666" y2="1522"/></g>
<ellipse cx="2421" cy="1222" rx="9" ry="13" fill="#3a3aa0"/><ellipse cx="2421" cy="1280" rx="9" ry="13" fill="#e03040"/>
<ellipse cx="2663" cy="1490" rx="9" ry="13" fill="#e03040"/><ellipse cx="2663" cy="1533" rx="9" ry="13" fill="#3a3aa0"/>
<g font-size="30">
<text x="2275" y="1207">C</text><text x="2322" y="1232">O</text>
<text x="2420" y="1212">NH<tspan font-size="18" dy="8">3</tspan><tspan font-size="18" dy="-20">+</tspan></text>
<text x="2545" y="1238">N</text>
<text x="2283" y="1310" style="fill:#d02020">HO</text><text x="2412" y="1316" style="fill:#d02020">COO<tspan font-size="18" dy="-12">−</tspan></text>
<text x="2496" y="1345" style="fill:#d02020">O</text>
<text x="2370" y="1470" style="fill:#d02020">O</text>
<text x="2350" y="1556">NH<tspan font-size="18" dy="8">2</tspan></text>
<text x="2478" y="1558">N</text>
<text x="2680" y="1480" style="fill:#d02020">COO<tspan font-size="18" dy="-12">−</tspan></text>
<text x="2680" y="1562">NH<tspan font-size="18" dy="8">3</tspan><tspan font-size="18" dy="-20">+</tspan></text>
<text x="2705" y="1307" style="fill:#d02020">COO<tspan font-size="18" dy="-12">−</tspan></text>
<text x="2816" y="1308" style="fill:#d02020">OH</text>
<text x="2808" y="1226">COOH</text>
<text x="2803" y="1480" style="fill:#d02020">COOH</text>
<text x="2826" y="1530">O</text><text x="2790" y="1565">C</text>
</g>
<circle cx="1338" cy="1751" r="8" fill="#e02020"/><circle cx="1328" cy="1760" r="5" fill="#ccc"/><circle cx="1345" cy="1766" r="5" fill="#ccc"/>
<text x="1387" y="1775" font-size="44">水</text>
<circle cx="1598" cy="1757" r="9" fill="#777"/><circle cx="1612" cy="1745" r="8" fill="#e02020"/><circle cx="1588" cy="1768" r="5" fill="#ccc"/>
<text x="1690" y="1775" font-size="44">乙醇</text>
<line x1="1928" y1="1755" x2="2022" y2="1755" stroke="#111" stroke-width="12"/><circle cx="1940" cy="1746" r="7" fill="#e02020"/><circle cx="2006" cy="1764" r="7" fill="#e02020"/>
<text x="2053" y="1770" font-size="44">GO</text>
<circle cx="1333" cy="1834" r="7" fill="#e02020"/>
<text x="1537" y="1855" font-size="44">氧化基团</text>
<path d="M1978 1845 q13 -22 26 0 t26 0 t26 0" fill="none" stroke="#f2a81e" stroke-width="8"/>
<text x="2092" y="1853" font-size="44">GE</text>
<circle cx="2252" cy="1668" r="15" fill="none" stroke="#3a3aa0" stroke-width="4"/><path d="M2244 1668 L2260 1668 M2252 1660 L2252 1676" stroke="#3a3aa0" stroke-width="3"/>
<circle cx="2355" cy="1668" r="15" fill="none" stroke="#e03040" stroke-width="4"/><line x1="2355" y1="1658" x2="2355" y2="1678" stroke="#e03040" stroke-width="3"/>
<g stroke="#333" stroke-width="3" stroke-dasharray="3 3"><line x1="2268" y1="1662" x2="2340" y2="1662"/><line x1="2268" y1="1674" x2="2340" y2="1674"/></g>
<line x1="2236" y1="1754" x2="2380" y2="1754" stroke="#111" stroke-width="9" stroke-dasharray="11 7"/>
<line x1="2236" y1="1839" x2="2382" y2="1839" stroke="#111" stroke-width="24" stroke-dasharray="3 4"/>
<text x="2577" y="1685" font-size="44">静电吸引</text>
<text x="2621" y="1770" font-size="44">氢键</text>
<text x="2572" y="1855" font-size="44">疏水作用</text>
<text x="2090" y="2036" font-size="56" text-anchor="middle">(e) 聚电解质交联GO膜</text>

<!-- ================= PANEL F ================= -->
<rect x="2997" y="1050" width="860" height="692" fill="url(#fbg)"/>
<rect x="2997" y="1725" width="860" height="17" fill="#dcdcdc"/>
<path d="M2997 1320 Q3100 1300 3226 1310 L3226 1360 Q3100 1372 2997 1368 Z" fill="url(#goband)"/>
<path d="M3479 1270 Q3650 1260 3855 1258 L3855 1318 Q3650 1320 3479 1325 Z" fill="url(#goband)"/>
<path d="M2997 1450 Q3400 1460 3855 1440 L3855 1492 Q3400 1505 2997 1498 Z" fill="url(#goband)"/>
<path d="M2997 1585 Q3300 1590 3855 1575 L3855 1632 Q3300 1645 2997 1640 Z" fill="url(#goband)"/>
<g fill="#8a2a20">
<circle cx="3020" cy="1300" r="7"/><circle cx="3060" cy="1295" r="7"/><circle cx="3110" cy="1290" r="7"/><circle cx="3170" cy="1296" r="7"/><circle cx="3500" cy="1255" r="7"/><circle cx="3560" cy="1250" r="7"/><circle cx="3640" cy="1248" r="7"/><circle cx="3720" cy="1245" r="7"/><circle cx="3800" cy="1240" r="7"/>
<circle cx="3030" cy="1436" r="7"/><circle cx="3090" cy="1432" r="7"/><circle cx="3150" cy="1434" r="7"/><circle cx="3220" cy="1436" r="7"/><circle cx="3650" cy="1430" r="7"/><circle cx="3720" cy="1426" r="7"/><circle cx="3800" cy="1420" r="7"/>
<circle cx="3030" cy="1572" r="7"/><circle cx="3090" cy="1570" r="7"/><circle cx="3180" cy="1572" r="7"/><circle cx="3260" cy="1575" r="7"/><circle cx="3700" cy="1565" r="7"/><circle cx="3780" cy="1560" r="7"/>
<circle cx="3060" cy="1510" r="7"/><circle cx="3140" cy="1660" r="7"/><circle cx="3720" cy="1505" r="7"/>
</g>
<g stroke="#3a3a90" stroke-width="2">
<path d="M3240 1255 L3310 1233 L3394 1260 L3394 1370 L3330 1402 L3226 1380 Z" fill="url(#holes)"/>
<path d="M3392 1262 L3440 1256 L3484 1280 L3484 1340 L3430 1361 L3392 1340 Z" fill="url(#holes)"/>
<path d="M3440 1335 L3530 1311 L3614 1345 L3614 1440 L3530 1471 L3428 1440 Z" fill="url(#holes)"/>
<path d="M3310 1420 L3360 1398 L3417 1420 L3417 1475 L3360 1494 L3302 1470 Z" fill="url(#holes)"/>
<path d="M3390 1480 L3450 1457 L3529 1485 L3529 1580 L3450 1604 L3383 1575 Z" fill="url(#holes)"/>
<path d="M3510 1520 L3590 1494 L3678 1530 L3678 1660 L3590 1705 L3496 1665 Z" fill="url(#holes)"/>
<path d="M3365 1605 L3430 1577 L3507 1605 L3507 1700 L3440 1733 L3355 1700 Z" fill="url(#holes)"/>
</g>
<path d="M3375 1200 Q3380 1400 3420 1500 Q3450 1600 3470 1720" fill="none" stroke="#4ab0c8" stroke-width="12"/>
<path d="M3455 1705 L3490 1712 L3478 1740 Z" fill="#4ab0c8"/>
<path d="M3440 1215 Q3500 1260 3575 1200" fill="none" stroke="#e02020" stroke-width="10"/>
<path d="M3565 1188 L3592 1190 L3580 1212 Z" fill="#e02020"/>
<g stroke="#4aa8c0" stroke-width="6" fill="none">
<line x1="3005" y1="1414" x2="3300" y2="1414" marker-start="url(#cyanL)" marker-end="url(#cyanL)"/>
<line x1="3855" y1="1402" x2="3635" y2="1402" marker-end="url(#cyanL)"/>
<line x1="3035" y1="1549" x2="3352" y2="1549" marker-start="url(#cyanL)" marker-end="url(#cyanL)"/>
<line x1="3855" y1="1547" x2="3678" y2="1547" marker-end="url(#cyanL)"/>
</g>
<g fill="#e02020"><circle cx="3087" cy="1150" r="10"/><circle cx="3334" cy="1075" r="10"/><circle cx="3762" cy="1072" r="10"/><circle cx="3649" cy="1187" r="10"/><circle cx="3411" cy="1226" r="10"/><circle cx="3116" cy="1250" r="10"/><circle cx="3167" cy="1412" r="10"/><circle cx="3412" cy="1383" r="10"/><circle cx="3748" cy="1385" r="10"/><circle cx="3162" cy="1548" r="10"/><circle cx="3785" cy="1536" r="10"/><circle cx="3700" cy="1710" r="10"/><circle cx="3515" cy="1690" r="10"/></g>
<g fill="#999"><circle cx="3393" cy="1140" r="5"/><circle cx="3405" cy="1165" r="5"/><circle cx="3420" cy="1185" r="5"/><circle cx="3375" cy="1170" r="5"/><circle cx="3355" cy="1190" r="5"/><circle cx="3435" cy="1160" r="5"/><circle cx="3450" cy="1190" r="5"/></g>
<g fill="#999"><circle cx="3060" cy="1800" r="5"/><circle cx="3070" cy="1815" r="5"/><circle cx="3050" cy="1825" r="5"/><circle cx="3090" cy="1830" r="5"/><circle cx="3110" cy="1840" r="5"/><circle cx="3030" cy="1840" r="5"/></g>
<circle cx="3130" cy="1845" r="5" fill="#e0a020"/><circle cx="3020" cy="1855" r="5" fill="#e0a020"/><circle cx="3045" cy="1785" r="5" fill="#e0a020"/>
<text x="3376" y="1830" font-size="46" text-anchor="middle">有机分子</text>
<path d="M3640 1815 Q3660 1840 3680 1820 M3660 1830 Q3680 1850 3705 1838" fill="none" stroke="#f08080" stroke-width="8"/>
<text x="3839" y="1830" font-size="46" text-anchor="middle">水分子</text>
<line x1="2995" y1="1914" x2="3090" y2="1914" stroke="#4aa8d0" stroke-width="5"/>
<path d="M3104 1914 L3080 1904 L3080 1924 Z" fill="#4aa8d0"/>
<text x="3435" y="1930" font-size="46" text-anchor="middle">水传输通道</text>
<text x="3503" y="2036" font-size="56" text-anchor="middle">(f) 纳米材料插层GO膜</text>
</svg>
</body></html>
